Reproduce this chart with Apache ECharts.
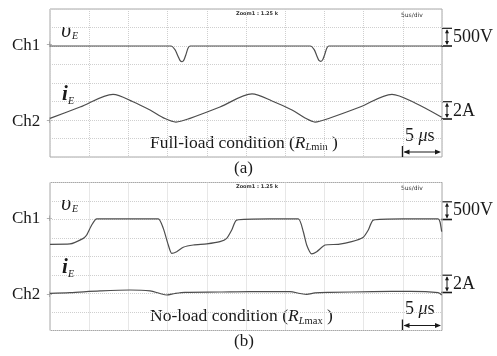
<!DOCTYPE html>
<html>
<head>
<meta charset="utf-8">
<script src="https://cdn.jsdelivr.net/npm/echarts/dist/echarts.min.js"></script>
<style>
  html, body { margin: 0; padding: 0; background: #fff; }
  #main { width: 497px; height: 356px; }
</style>
</head>
<body>
<div id="main"></div>
<script>
// time axis in us (5 us/div, 10 div), vertical axis in divisions (8 div)
var xTicks = [0, 5, 10, 15, 20, 25, 30, 35, 40, 45, 50];

// (a) full load
var vE_full = [
  [0, 6.0], [8, 6.0], [15.43, 6.0], [15.94, 5.8], [16.33, 5.45], [16.58, 5.22], [16.84, 5.15],
  [17.09, 5.25], [17.35, 5.55], [17.6, 5.88], [17.86, 6.0], [25, 6.0], [33.2, 6.0],
  [33.7, 5.8], [34.05, 5.45], [34.3, 5.22], [34.55, 5.17], [34.8, 5.27], [35.05, 5.55],
  [35.3, 5.88], [35.55, 6.0], [42, 6.0], [50, 6.0]
];
var iE_full = [
  [0, 2.09], [3.83, 2.7], [8.04, 3.39], [10.59, 2.99], [12.76, 2.54], [14.67, 2.08],
  [16.07, 1.89], [17.86, 2.09], [21.68, 2.7], [25.77, 3.41], [28.32, 3.03], [30.87, 2.54],
  [32.53, 2.11], [33.8, 1.89], [35.71, 2.11], [39.54, 2.7], [43.62, 3.39], [46.56, 2.92],
  [49.96, 2.15]
];

// (b) no load
var vE_none = [
  [0, 4.66], [2.55, 4.68], [4.25, 4.98], [4.68, 5.16], [5.32, 5.7], [5.96, 6.03],
  [10, 6.03], [13.81, 6.03], [14.45, 5.52], [15.09, 4.62], [15.52, 4.17], [16.16, 4.26],
  [17.0, 4.5], [18.28, 4.62], [19.99, 4.68], [21.68, 4.8], [22.54, 4.98], [23.18, 5.43],
  [23.81, 5.97], [28, 6.03], [31.67, 6.03], [32.31, 5.34], [32.74, 4.62], [33.38, 4.14],
  [34.02, 4.26], [35.08, 4.62], [36.77, 4.66], [38.48, 4.8], [39.96, 5.04], [40.6, 5.43],
  [41.24, 5.97], [45, 6.03], [49.49, 6.03], [49.74, 5.88], [49.96, 5.34]
];
var iE_none = [
  [0, 2.01], [2.55, 2.05], [6.38, 2.14], [10.2, 2.19], [12.76, 2.14], [14.03, 2.0],
  [14.89, 1.92], [15.94, 2.0], [17.22, 2.06], [21.68, 2.08], [25.51, 2.1], [30.6, 2.1],
  [31.89, 2.0], [32.74, 1.95], [33.8, 2.03], [35.71, 2.06], [41.2, 2.1], [45.9, 2.12],
  [49.5, 2.05], [49.96, 1.92]
];

var traceColor = '#4d4d4d';
var serif = 'Liberation Serif, Times New Roman, serif';

var chart = echarts.init(document.getElementById('main'));

function xAx(idx) {
  return {
    type: 'value', gridIndex: idx, min: 0, max: 50, interval: 5,
    axisLine: { show: false }, axisTick: { show: false }, axisLabel: { show: false },
    splitLine: { show: true, lineStyle: { color: '#cfcfcf', type: 'dotted', width: 1 } }
  };
}
function yAx(idx) {
  return {
    type: 'value', gridIndex: idx, min: 0, max: 8, interval: 1,
    axisLine: { show: false }, axisTick: { show: false }, axisLabel: { show: false },
    splitLine: { show: true, lineStyle: { color: '#cfcfcf', type: 'dotted', width: 1 } }
  };
}
function trace(name, idx, data, sm) {
  return {
    name: name, type: 'line', xAxisIndex: idx, yAxisIndex: idx, data: data,
    showSymbol: false, smooth: sm, animation: false,
    lineStyle: { color: traceColor, width: 1.2 }
  };
}

// text helpers
function txt(x, y, s, size, opt) {
  opt = opt || {};
  return {
    type: 'text', left: x, top: y, silent: true,
    style: {
      text: s, fontFamily: opt.family || serif, fontSize: size,
      fontStyle: opt.italic ? 'italic' : 'normal', fontWeight: opt.bold ? 'bold' : 'normal',
      fill: opt.color || '#1a1a1a'
    }
  };
}
function seg(x1, y1, x2, y2, w) {
  return { type: 'line', silent: true, shape: { x1: x1, y1: y1, x2: x2, y2: y2 },
    style: { stroke: '#1a1a1a', lineWidth: w || 1.2 } };
}
function tri(points) {
  return { type: 'polygon', silent: true, shape: { points: points }, style: { fill: '#1a1a1a' } };
}
// vertical scale marker at the right edge
function vMarker(x, yTop, yBot) {
  return [
    seg(x - 5, yTop, x + 5, yTop, 1.2),
    seg(x - 5.5, yBot, x + 5, yBot, 1.6),
    seg(x, yTop + 2, x, yBot - 2, 1),
    tri([[x, yTop + 1], [x - 2, yTop + 5], [x + 2, yTop + 5]]),
    tri([[x, yBot - 1], [x - 2, yBot - 5], [x + 2, yBot - 5]])
  ];
}
// horizontal time scale marker
function hMarker(xL, xR, y) {
  return [
    seg(xL, y - 6, xL, y + 5, 1.4),
    seg(xL + 2, y, xR - 2, y, 1.2),
    tri([[xL + 1, y], [xL + 7, y - 2.5], [xL + 7, y + 2.5]]),
    tri([[xR, y], [xR - 6, y - 2.5], [xR - 6, y + 2.5]])
  ];
}

// o = vertical offset of the panel relative to panel (a)
function panelText(o, cond, sub, tag) {
  var g = [];
  g.push(txt(12, o + 37, 'Ch1', 17));
  g.push(txt(12, o + 113, 'Ch2', 17));
  g.push(txt(46, o + 41, '+', 8, { color: '#999', family: 'DejaVu Sans' }));
  g.push(txt(46, o + 117, '+', 8, { color: '#999', family: 'DejaVu Sans' }));
  g.push(txt(61, o + 20, 'υ', 22, { italic: true }));
  g.push(txt(72, o + 31, 'E', 10, { italic: true }));
  g.push(txt(62, o + 84, 'i', 21, { italic: true, bold: true }));
  g.push(txt(68, o + 96, 'E', 10, { italic: true }));
  g.push(txt(236, o + 11, 'Zoom1 : 1.25 k', 5, { family: 'DejaVu Sans', bold: true, color: '#333' }));
  g.push(txt(401, o + 12, '5us/div', 6, { family: 'DejaVu Sans', color: '#333' }));
  g.push(txt(453, o + 28, '500V', 18));
  g.push(txt(453, o + 102, '2A', 18));
  g.push({
    type: 'text', left: 405, top: o + 127, silent: true,
    style: {
      text: '{m|5 }{i|μ}{m|s}',
      rich: {
        m: { fontFamily: serif, fontSize: 18, fill: '#1a1a1a' },
        i: { fontFamily: serif, fontSize: 18, fontStyle: 'italic', fill: '#1a1a1a' }
      }
    }
  });
  g.push({
    type: 'text', left: 150, top: o + 134, silent: true,
    style: {
      text: '{m|' + cond + ' (}{r|R}{l|L}{s|' + sub + '}{m| )}',
      rich: {
        m: { fontFamily: serif, fontSize: 17.5, lineHeight: 20, fill: '#1a1a1a' },
        r: { fontFamily: serif, fontSize: 17.5, lineHeight: 20, fontStyle: 'italic', fill: '#1a1a1a' },
        l: { fontFamily: serif, fontSize: 10.5, lineHeight: 8, fontStyle: 'italic', verticalAlign: 'bottom', fill: '#1a1a1a' },
        s: { fontFamily: serif, fontSize: 10.5, lineHeight: 8, verticalAlign: 'bottom', fill: '#1a1a1a' }
      }
    }
  });
  g.push(txt(234, o + 160, tag, 17));
  g = g.concat(vMarker(447, o + 28.3, o + 46));
  g = g.concat(vMarker(447, o + 101.7, o + 119));
  g = g.concat(hMarker(402.5, 441, o + 152));
  return g;
}

var option = {
  backgroundColor: '#fff',
  animation: false,
  grid: [
    { left: 50, top: 9, width: 392, height: 148, show: true, borderColor: '#a8a8a8', borderWidth: 1, backgroundColor: 'transparent' },
    { left: 50, top: 182.5, width: 392, height: 148, show: true, borderColor: '#a8a8a8', borderWidth: 1, backgroundColor: 'transparent' }
  ],
  xAxis: [xAx(0), xAx(1)],
  yAxis: [yAx(0), yAx(1)],
  series: [
    trace('vE full', 0, vE_full, 0.2),
    trace('iE full', 0, iE_full, 0.3),
    trace('vE none', 1, vE_none, 0.2),
    trace('iE none', 1, iE_none, 0.3)
  ],
  graphic: panelText(0, 'Full-load condition', 'min', '(a)')
    .concat(panelText(173.5, 'No-load condition', 'max', '(b)'))
};

chart.setOption(option);
</script>
</body>
</html>
